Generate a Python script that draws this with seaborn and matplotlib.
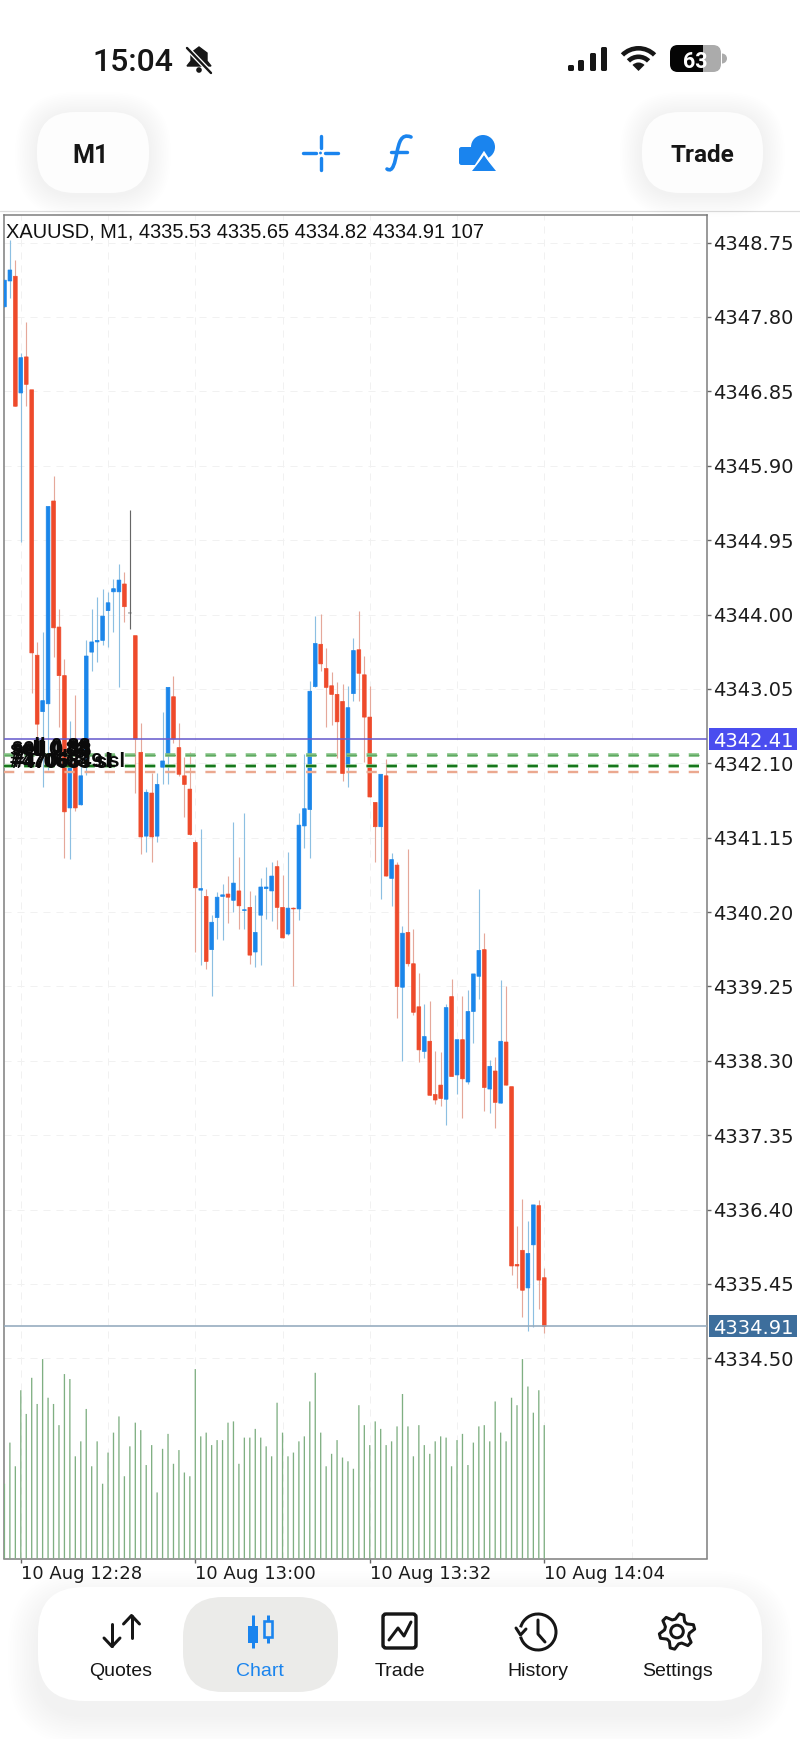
import numpy as np
import pandas as pd
import matplotlib
matplotlib.use("Agg")
import matplotlib.pyplot as plt
import seaborn as sns
from matplotlib.patches import FancyBboxPatch, Rectangle, Circle, Wedge, Polygon, PathPatch, Arc
from matplotlib.path import Path
from matplotlib.transforms import blended_transform_factory

open_px = [4347.93,4348.26,4348.32,4346.83,4347.29,4346.87,4343.48,4342.76,4342.86,4345.45,
 4343.84,4343.22,4341.53,4342.10,4341.57,4342.10,4343.52,4343.65,4343.67,4344.05,
 4344.29,4344.29,4344.39,4344.02,4343.73,4342.24,4341.17,4341.72,4341.17,4342.05,
 4342.22,4342.95,4342.30,4341.94,4341.77,4341.09,4340.48,4340.40,4339.72,4340.13,
 4340.40,4340.43,4340.35,4340.47,4340.22,4340.26,4339.69,4340.16,4340.50,4340.47,
 4340.78,4340.26,4339.92,4340.25,4340.24,4341.30,4341.51,4343.08,4343.62,4343.31,
 4343.09,4342.98,4342.89,4342.05,4342.99,4343.55,4343.23,4342.69,4341.60,4341.29,
 4341.94,4340.63,4340.80,4339.24,4339.94,4339.54,4338.99,4338.42,4338.55,4337.87,
 4337.99,4337.81,4339.12,4338.12,4338.57,4338.03,4338.93,4339.38,4339.72,4337.94,
 4338.17,4337.76,4338.54,4337.97,4335.70,4335.88,4335.40,4335.95,4336.45,4335.53]
high_px = [4348.27,4348.78,4348.53,4347.34,4347.73,4346.87,4343.65,4343.78,4345.38,4345.77,
 4344.07,4343.43,4342.64,4342.97,4342.40,4343.67,4344.07,4344.23,4344.33,4344.29,
 4344.45,4344.64,4344.54,4345.34,4343.73,4342.62,4341.77,4341.97,4341.97,4342.75,
 4343.07,4343.22,4342.61,4342.18,4342.25,4341.12,4341.26,4340.49,4340.16,4340.45,
 4340.56,4340.66,4341.35,4340.90,4341.47,4340.47,4340.42,4340.63,4340.78,4340.84,
 4340.87,4340.67,4340.97,4340.27,4341.47,4342.22,4343.15,4343.98,4344.01,4343.57,
 4343.27,4343.14,4343.11,4343.09,4343.70,4344.04,4343.47,4343.09,4341.60,4341.96,
 4342.15,4340.95,4340.84,4340.02,4341.01,4339.99,4339.42,4339.02,4339.07,4338.42,
 4338.41,4339.03,4339.34,4338.57,4339.13,4339.20,4339.41,4340.49,4339.93,4338.31,
 4338.35,4339.33,4339.26,4337.97,4336.19,4336.54,4336.25,4336.46,4336.52,4335.65]
low_px = [4347.93,4348.04,4346.66,4344.92,4346.66,4343.00,4342.33,4341.80,4342.01,4343.46,
 4342.56,4340.89,4340.88,4341.49,4341.57,4341.95,4343.28,4343.40,4343.61,4343.58,
 4343.78,4343.08,4343.91,4343.81,4341.72,4340.94,4340.97,4340.84,4341.09,4341.83,
 4341.83,4342.36,4341.94,4341.42,4341.19,4339.69,4339.52,4339.47,4339.13,4339.85,
 4339.84,4340.06,4340.20,4339.99,4339.99,4339.54,4339.50,4339.52,4340.11,4340.08,
 4339.99,4339.87,4339.91,4339.25,4340.10,4341.02,4340.89,4343.08,4343.28,4342.56,
 4342.59,4342.17,4341.87,4341.80,4342.89,4342.89,4342.12,4341.67,4340.84,4340.37,
 4340.66,4340.28,4338.85,4338.30,4339.51,4338.88,4338.28,4338.34,4337.86,4337.75,
 4337.72,4337.48,4338.10,4337.88,4337.57,4338.00,4338.53,4339.09,4337.66,4337.63,
 4337.44,4337.76,4337.99,4335.56,4335.40,4335.03,4334.85,4334.90,4335.13,4334.82]
close_px = [4348.27,4348.40,4346.66,4347.28,4346.94,4343.51,4342.60,4342.90,4345.38,4343.83,
 4343.22,4341.48,4342.10,4341.53,4341.94,4343.47,4343.65,4343.67,4343.98,4344.15,
 4344.33,4344.44,4344.10,4344.02,4342.41,4341.16,4341.73,4341.16,4341.83,4342.13,
 4343.07,4342.41,4341.96,4341.83,4341.19,4340.51,4340.50,4339.57,4340.07,4340.39,
 4340.42,4340.39,4340.57,4340.28,4340.23,4339.65,4339.94,4340.52,4340.52,4340.66,
 4340.26,4339.87,4340.25,4340.24,4341.31,4341.52,4343.02,4343.63,4343.37,4343.07,
 4342.98,4342.63,4341.97,4342.81,4343.54,4343.25,4342.69,4341.67,4341.29,4341.96,
 4340.66,4340.87,4339.25,4339.93,4339.54,4338.92,4338.44,4338.61,4337.86,4337.80,
 4337.82,4338.98,4338.10,4338.57,4338.07,4338.93,4339.41,4339.71,4337.96,4338.23,
 4337.77,4338.55,4337.99,4335.68,4335.68,4335.37,4335.84,4336.46,4335.50,4334.91]
volume = [60,93,74,135,116,145,124,160,129,124,107,148,144,82,94,120,74,94,60,85,
 101,114,66,90,109,103,75,91,53,88,100,76,87,69,66,152,98,101,91,95,
 95,109,110,76,97,97,104,97,90,82,125,101,82,85,94,98,126,149,101,74,
 84,95,81,78,72,123,107,91,110,104,91,94,106,132,106,82,107,91,84,94,
 98,97,74,95,100,75,93,106,107,94,126,101,94,129,123,160,138,117,135,107]
price_ticks = [4348.75,4347.80,4346.85,4345.90,4344.95,4344.00,4343.05,4342.10,4341.15,
               4340.20,4339.25,4338.30,4337.35,4336.40,4335.45,4334.50]
time_tick_index = [3,35,67,99]
time_labels = ["10 Aug 12:28","10 Aug 13:00","10 Aug 13:32","10 Aug 14:04"]
grid_only_index = [19,51,83,115]
title_text = "XAUUSD, M1, 4335.53 4335.65 4334.82 4334.91 107"
bid_price, sl_price_a, sl_price_b, tp_price, last_price = 4342.41, 4342.21, 4342.06, 4341.99, 4334.91
nav_labels = ["Quotes","Chart","Trade","History","Settings"]

RED, BLUE = "#EE4A2B", "#1B86EA"
RED_W, BLUE_W = "#E5A89A", "#8CBFE2"
W, H = 800, 1739
PX = 0.72

sns.set_theme(style="white")
plt.rcParams["font.family"] = ["DejaVu Sans"]
fig = plt.figure(figsize=(8, 17.39), dpi=100, facecolor="white")

L, R, T, B = 3.9, 707.3, 215.0, 1558.5
pos = [L/W, 1-B/H, (R-L)/W, (B-T)/H]
ax = fig.add_axes(pos, zorder=1, facecolor="none")
ax_v = fig.add_axes(pos, zorder=2, facecolor="none")

idx = np.arange(len(close_px))
df = pd.DataFrame({"i": idx, "o": open_px, "h": high_px, "l": low_px, "c": close_px, "v": volume})

sns.barplot(data=df, x="i", y="v", native_scale=True, color="#7FAF82", saturation=1,
            width=0.24, errorbar=None, ax=ax_v, linewidth=0)
for patch in ax_v.patches:
    patch.set_snap(False)
xlim = (-0.1, 128.9)
ax_v.set_xlim(*xlim)
ax_v.set_ylim(0, 1078)
ax_v.axis("off")

df["kind"] = np.where(df.c > df.o, "up", np.where(df.c < df.o, "down", "flat"))
body = {"up": BLUE, "down": RED, "flat": "#555555"}
wick = {"up": BLUE_W, "down": RED_W, "flat": "#666666"}
ax.vlines(df.i, df.l, df.h, colors=df.kind.map(wick), lw=1.15*PX, zorder=2)
bars = ax.bar(df.i, (df.c-df.o).abs(), bottom=df[["o","c"]].min(axis=1), width=0.68,
              color=df.kind.map(body), edgecolor=df.kind.map(body), lw=0.5, zorder=3)
for patch in bars:
    patch.set_snap(False)

ax.set_xlim(*xlim)
ax.set_ylim(4348.75-(B-242.6)/78.3, 4348.75+(242.6-T)/78.3)
ax.set_yticks(price_ticks)
ax.set_yticklabels([f"{p:.2f}" for p in price_ticks])
ax.yaxis.tick_right()
ax.set_xticks(time_tick_index)
ax.set_xticklabels(time_labels, ha="left")
ax.set_xticks(grid_only_index, minor=True)
ax.tick_params(axis="y", which="major", length=3, width=1, color="#666666", labelsize=14,
               labelcolor="#1c1c1c", pad=1.5)
ax.tick_params(axis="x", which="major", length=3, width=1, color="#666666", labelsize=13,
               labelcolor="#1c1c1c", pad=2, bottom=True)
ax.tick_params(axis="x", which="minor", length=0, bottom=False)
ax.grid(True, which="both", axis="both", color="#F1F1F1", lw=1.0*PX, linestyle=(0, (7, 6)))
ax.set_axisbelow(True)
for s in ax.spines.values():
    s.set_color("#7A7A7A"); s.set_linewidth(1.5*PX); s.set_visible(True)

ax.axhline(bid_price, color="#6A5FCE", lw=1.6*PX, zorder=5)
ax.axhline(last_price, color="#93AABD", lw=1.6*PX, zorder=5)
dash = (0, (7.4/(3.6*PX), 7.1/(3.6*PX)))
ax.axhline(sl_price_a, color="#86C486", lw=3.6*PX, linestyle=dash, zorder=5)
ax.axhline(sl_price_a, color="#5FA962", lw=1.4*PX, linestyle=(0, (7.4/(1.4*PX), 7.1/(1.4*PX))), zorder=6)
ax.axhline(sl_price_b, color="#86C486", lw=3.6*PX, linestyle=dash, zorder=5)
ax.axhline(sl_price_b, color="#0B6E12", lw=1.8*PX, linestyle=(0, (7.4/(1.8*PX), 7.1/(1.8*PX))), zorder=6)
ax.axhline(tp_price, color="#EBA88F", lw=2.4*PX, linestyle=(0, (7.4/(2.4*PX), 7.1/(2.4*PX))), zorder=5)

tr = blended_transform_factory(ax.transAxes, ax.transData)
xa = lambda px: (px-L)/(R-L)
for price, col in [(bid_price, "#4A4DEF"), (last_price, "#3D6E9C")]:
    ax.add_patch(Rectangle((xa(709), price-11/78.3), 88/(R-L), 22/78.3, transform=tr,
                           facecolor=col, edgecolor="none", clip_on=False, zorder=7))
    ax.text(xa(753), price, f"{price:.2f}", transform=tr, color="white", fontsize=14,
            ha="center", va="center_baseline", clip_on=False, zorder=8)

c = fig.add_axes([0, 0, 1, 1], zorder=3, facecolor="none")
c.set_xlim(0, W); c.set_ylim(H, 0); c.axis("off")

def rbox(x0, y0, x1, y1, r, fc, ec="none", lw=0, z=2, alpha=None):
    p = FancyBboxPatch((x0+r, y0+r), x1-x0-2*r, y1-y0-2*r, boxstyle=f"round,pad={r},rounding_size={r}",
                       fc=fc, ec=ec, lw=lw, zorder=z, alpha=alpha, mutation_aspect=1)
    c.add_patch(p); return p

def shadow(x0, y0, x1, y1, r, spread=26, dy=6, n=13, a=0.0045):
    for k in range(n, 0, -1):
        g = spread*k/n
        rbox(x0-g, y0-g+dy, x1+g, y1+g+dy, r+g, "black", alpha=a, z=1)

INK = "#161616"
SANS = ["Liberation Sans", "DejaVu Sans"]
ROB = ["Roboto", "DejaVu Sans"]

c.text(92, 71, "15:04", fontsize=23, family=ROB, weight="medium", color=INK, va="baseline", ha="left")
c.add_patch(PathPatch(Path([(187,66),(191,61),(191,53),(199,47),(207,53),(207,61),(211,66),(187,66)],
            [1,2,2,2,2,2,2,79]), fc=INK, ec=INK, lw=1, zorder=3))
c.add_patch(Circle((199, 70), 2.8, fc=INK, ec="none", zorder=3))
c.plot([186, 212], [47, 74], color="white", lw=5*PX, zorder=4, solid_capstyle="round")
c.plot([187, 211], [48, 73], color=INK, lw=2.4*PX, zorder=5, solid_capstyle="round")
for x0, top in [(568,65),(578,60),(590,53),(601,47)]:
    rbox(x0, top, x0+6, 71, 1.6, INK, z=3)
for r, wd in [(25, 4.6), (16.5, 4.6), (8.5, 8.5)]:
    c.add_patch(Wedge((638.5, 71), r, 225, 315, width=wd, fc=INK, ec="none", zorder=3))
rbox(670, 45, 721, 72, 8, "#ABABAB", z=3)
p = rbox(670, 45, 721, 72, 8, "#050505", z=4)
p.set_clip_path(Rectangle((670, 45), 33, 27, transform=c.transData))
c.add_patch(Wedge((722, 58.5), 5, -90, 90, fc="#ABABAB", ec="none", zorder=3))
c.text(695.5, 59, "63", fontsize=15.5, family=ROB, weight="bold", color="white", ha="center", va="center_baseline", zorder=6)

c.plot([0, W], [211, 211], color="#DCDCDC", lw=1.2*PX, zorder=1)
for x0, x1 in [(37,149),(642,763)]:
    shadow(x0, 112, x1, 193, 38, spread=22, dy=2, a=0.0026)
    rbox(x0, 112, x1, 193, 38, "#FDFDFD", z=2)
c.text(91, 153.5, "M1", fontsize=18, family=ROB, weight="bold", color=INK, ha="center", va="center_baseline", zorder=3)
c.text(702.5, 153.5, "Trade", fontsize=17.5, family=ROB, weight="bold", color=INK, ha="center", va="center_baseline", zorder=3)
IB = "#1A84EE"
kw = dict(color=IB, lw=3.4*PX, solid_capstyle="round", zorder=3)
c.plot([303,316],[153,153],**kw); c.plot([325,338],[153,153],**kw)
c.plot([320.5,320.5],[136,148],**kw); c.plot([320.5,320.5],[158,170],**kw)
c.add_patch(Circle((320.5,153),1.4,fc=IB,ec="none",zorder=3))
c.add_patch(PathPatch(Path([(411,137),(401,133),(399,143),(397,152),(395,162),(393,173),(387,169)],
            [1,4,4,4,4,4,4]), fc="none", ec=IB, lw=3.6*PX, capstyle="round", zorder=3))
c.plot([391,407],[152,152],**kw)
rbox(459,147,480,165,2.5,IB,z=3)
c.add_patch(Circle((483,147),12,fc=IB,ec="none",zorder=4))
c.add_patch(Polygon([(484,153),(473,170),(495,170)],fc=IB,ec="white",lw=2.4*PX,zorder=5,joinstyle="miter"))
c.add_patch(Polygon([(484,156),(472,171),(496,171)],fc=IB,ec="none",zorder=6))

shadow(38,1587,762,1701,46,spread=30,dy=14,a=0.003)
rbox(38,1587,762,1701,46,"white",z=2)
rbox(183,1597,338,1692,40,"#EBEBE9",z=3)
centres = [121,260,399.5,538,677.5]
for x, lab in zip(centres, nav_labels):
    c.text(x, 1670, lab, fontsize=14, family=SANS, color=IB if lab=="Chart" else INK,
           ha="center", va="center_baseline", zorder=4)
kw = dict(color=INK, lw=3*PX, solid_capstyle="round", solid_joinstyle="round", zorder=4)
c.plot([112,112],[1624,1646],**kw); c.plot([104,112,120],[1638,1646.5,1638],**kw)
c.plot([131.5,131.5],[1616,1638],**kw); c.plot([123.5,131.5,139.5],[1624,1615.5,1624],**kw)
kb = dict(color=IB, lw=3*PX, solid_capstyle="butt", zorder=4)
c.plot([252.5,252.5],[1615,1648],**kb); c.plot([268,268],[1615,1643],**kb)
c.add_patch(Rectangle((248,1626),10,17,fc=IB,ec="none",zorder=5))
c.add_patch(Rectangle((264,1621),8,16,fc="#EBEBE9",ec=IB,lw=2.6*PX,zorder=5))
rbox(383,1614,416,1648,3,"none",ec=INK,lw=3.4*PX,z=4)
c.plot([389,398,404,411],[1640,1628,1636,1622],**kw)
c.add_patch(Arc((538,1632),36,36,theta1=-165,theta2=165,ec=INK,lw=3*PX,zorder=4))
c.plot([538,538,545],[1620,1634,1642],**kw)
c.plot([516,520.5,526],[1628,1635,1629],**kw)
ang = np.deg2rad(np.arange(0,360,15)-7.5+0)
rad = np.tile([12.5,17.8,17.8,12.5],6)
c.add_patch(Polygon(np.c_[677+rad*np.sin(ang), 1631.5-rad*np.cos(ang)], fc="none", ec=INK, lw=3*PX, joinstyle="round", zorder=4))
c.add_patch(Circle((677,1631.5),6.3,fc="none",ec=INK,lw=3*PX,zorder=4))

c.text(6, 237, title_text, fontsize=14.45, family=SANS, color="#111111", ha="left", va="baseline", zorder=6)
for dx, dy, s in [(0, 0, "sell 0.88"), (1.5, -1.5, "sell 0.88"), (3, 1, "sell 0.88"), (2, -3, "sell 0.88")]:
    c.text(10+dx, 755+dy, s, fontsize=14.5, family=SANS, weight="bold", color="#0a0a0a", ha="left", va="baseline", zorder=7)
for dx, dy, s in [(0, 0, "#470668 sl"), (1.5, 1, "#470683 sl"), (3, 0, "#4706849 sl")]:
    c.text(10+dx, 767+dy, s, fontsize=14.5, family=SANS, weight="bold", color="#0a0a0a", ha="left", va="baseline", zorder=7)

fig.savefig("out.png", dpi=100, facecolor="white")
